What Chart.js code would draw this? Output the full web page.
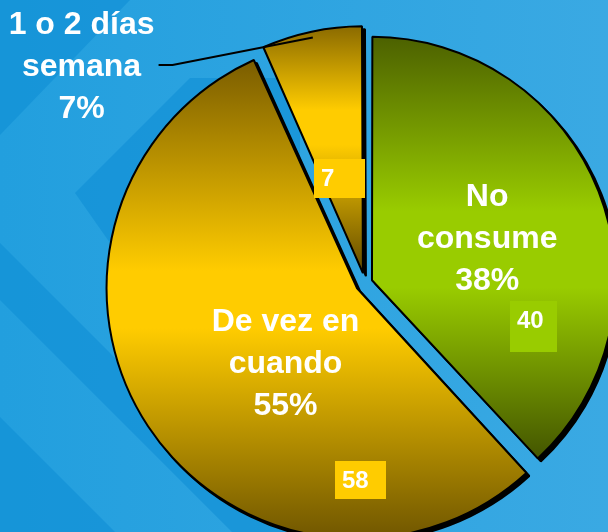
<!DOCTYPE html>
<html><head><meta charset="utf-8">
<script src="https://cdn.jsdelivr.net/npm/chart.js@4/dist/chart.umd.min.js"></script>
<style>html,body{margin:0;padding:0;background:#29a3e1;overflow:hidden}#wrap{position:relative;width:608px;height:532px}canvas{display:block}</style>
</head><body><div id="wrap"><canvas id="c" width="608" height="532"></canvas></div>
<script>
// ---- data ----
const categories = ['No consume', 'De vez en cuando', '1 o 2 días semana'];
const labelLines = [['No', 'consume'], ['De vez en', 'cuando'], ['1 o 2 días', 'semana']];
const values = [40, 58, 7];

// ---- style ----
const W = 608, H = 532;
const PIE_RADIUS = 241;
const sliceOffsets = [30, 38, 40];
const gradColors = [
  ['#4b5f00', '#99cc00', '#99cc00', '#455700'],
  ['#7d5f00', '#ffcc00', '#ffcc00', '#6c5300'],
  ['#7d5f00', '#ffcc00', '#ffcc00', '#6c5300']
];
const gradPos = [[0, 0.42, 0.6, 1], [0, 0.43, 0.55, 1], [0, 0.38, 0.52, 1]];
const catPlace = [{ang: 69.5, dist: 123}, {ang: 224, dist: 103}, {ang: 306.5, dist: 350}];
const valPlace = [
  {ang: 106, dist: 168, w: 47, h: 51, fill: '#99cc00'},
  {ang: 179, dist: 192, w: 51, h: 38, fill: '#ffcc00'},
  {ang: 346, dist: 98, w: 51, h: 39, fill: '#ffcc00'}
];
const outsideLabel = 2;

const total = values.reduce((s, v) => s + v, 0);
const percents = values.map(v => Math.round(v / total * 100) + '%');

function sliceFill(ctx) {
  const chart = ctx.chart, a = chart.chartArea, i = ctx.dataIndex;
  if (!a || i === undefined) return gradColors[i || 0][1];
  const ds = chart.data.datasets[0];
  const vals = ds.data, tot = vals.reduce((s, v) => s + v, 0);
  let before = 0;
  for (let j = 0; j < i; j++) before += vals[j];
  const a0 = before / tot * 2 * Math.PI, a1 = (before + vals[i]) / tot * 2 * Math.PI;
  const mid = (a0 + a1) / 2, circ = a1 - a0;
  const off = ds.offset[i] / 4;
  const cx = (a.left + a.right) / 2, cy = (a.top + a.bottom) / 2;
  const vx = cx + Math.sin(mid) * off, vy = cy - Math.cos(mid) * off;
  const r = ds.radius + off * (1 - Math.sin(Math.min(Math.PI, circ)));
  const ys = [vy, vy - r * Math.cos(a0), vy - r * Math.cos(a1)];
  for (let k = 0; k <= 2; k++) { const t = k * Math.PI; if (t >= a0 && t <= a1) ys.push(vy - r * Math.cos(t)); }
  const y0 = Math.min(...ys), y1 = Math.max(...ys);
  const g = chart.ctx.createLinearGradient(0, y0, 0, y1);
  gradPos[i].forEach((p, k) => g.addColorStop(p, gradColors[i][k]));
  return g;
}

function vertexOf(el) {
  const half = (el.startAngle + el.endAngle) / 2;
  const off = (el.options.offset || 0) / 4;
  return {x: el.x + Math.cos(half) * off, y: el.y + Math.sin(half) * off};
}
function polar(v, deg, d) {
  const a = deg * Math.PI / 180;
  return {x: v.x + Math.sin(a) * d, y: v.y - Math.cos(a) * d};
}

const backgroundPlugin = {
  id: 'bg',
  beforeDraw(chart) {
    const c = chart.ctx;
    c.save();
    const g = c.createLinearGradient(0, 0, W, 0);
    g.addColorStop(0, '#229fde');
    g.addColorStop(1, '#3aa9e3');
    c.fillStyle = g;
    c.fillRect(0, 0, W, H);
    c.fillStyle = 'rgba(12,140,212,0.55)';
    const poly = pts => { c.beginPath(); pts.forEach((p, k) => k ? c.lineTo(p[0], p[1]) : c.moveTo(p[0], p[1])); c.closePath(); c.fill(); };
    poly([[0, 0], [130, 0], [0, 135]]);
    poly([[75, 193], [190, 78], [300, 78], [300, 300], [150, 300]]);
    poly([[0, 243], [0, 300], [232, 532], [289, 532]]);
    poly([[0, 417], [0, 532], [115, 532]]);
    c.fillStyle = 'rgba(80,180,235,0.25)';
    poly([[330, 532], [420, 532], [470, 482], [380, 482]]);
    c.restore();
  }
};

const shadowPlugin = {
  id: 'shadow',
  beforeDatasetsDraw(chart) {
    const c = chart.ctx;
    const meta = chart.getDatasetMeta(0);
    c.save();
    c.translate(3, 3);
    c.filter = 'brightness(0)';
    meta.data.forEach(el => el.draw(c));
    c.restore();
  }
};

const labelPlugin = {
  id: 'labels',
  afterDatasetsDraw(chart) {
    const c = chart.ctx;
    const meta = chart.getDatasetMeta(0);
    c.save();
    meta.data.forEach((el, i) => {
      const v = vertexOf(el);
      const ap = polar(v, catPlace[i].ang, catPlace[i].dist);
      if (i === outsideLabel) {
        const midDeg = ((el.startAngle + el.endAngle) / 2) * 180 / Math.PI + 90;
        const p0 = polar(v, midDeg, el.outerRadius);
        c.strokeStyle = '#000';
        c.lineWidth = 2;
        c.beginPath();
        c.moveTo(p0.x, p0.y);
        c.lineTo(ap.x + 91, ap.y);
        c.lineTo(ap.x + 77, ap.y);
        c.stroke();
      }
      c.fillStyle = '#ffffff';
      c.font = 'bold 32px "Liberation Sans", Arial, sans-serif';
      c.textAlign = 'center';
      c.textBaseline = 'alphabetic';
      const lines = labelLines[i].concat([percents[i]]);
      lines.forEach((t, k) => c.fillText(t, ap.x, ap.y + 11 + (k - 1) * 42));
      const vp = valPlace[i];
      const bp = polar(v, vp.ang, vp.dist);
      const left = Math.round(bp.x - vp.w / 2), top = Math.round(bp.y - vp.h / 2);
      c.fillStyle = vp.fill;
      c.fillRect(left, top, vp.w, vp.h);
      c.fillStyle = '#ffffff';
      c.font = 'bold 24px "Liberation Sans", Arial, sans-serif';
      c.textAlign = 'left';
      c.fillText(String(values[i]), left + 7, top + 27);
    });
    c.restore();
  }
};

new Chart(document.getElementById('c'), {
  type: 'pie',
  data: {
    labels: categories,
    datasets: [{
      data: values,
      radius: PIE_RADIUS,
      offset: sliceOffsets,
      backgroundColor: sliceFill,
      borderColor: '#000000',
      borderWidth: 2,
      clip: false
    }]
  },
  options: {
    responsive: false,
    animation: false,
    events: [],
    layout: {padding: {left: 122, top: 34, right: 0, bottom: 0}},
    plugins: {legend: {display: false}, tooltip: {enabled: false}, title: {display: false}}
  },
  plugins: [backgroundPlugin, shadowPlugin, labelPlugin]
});
</script>
</body></html>
